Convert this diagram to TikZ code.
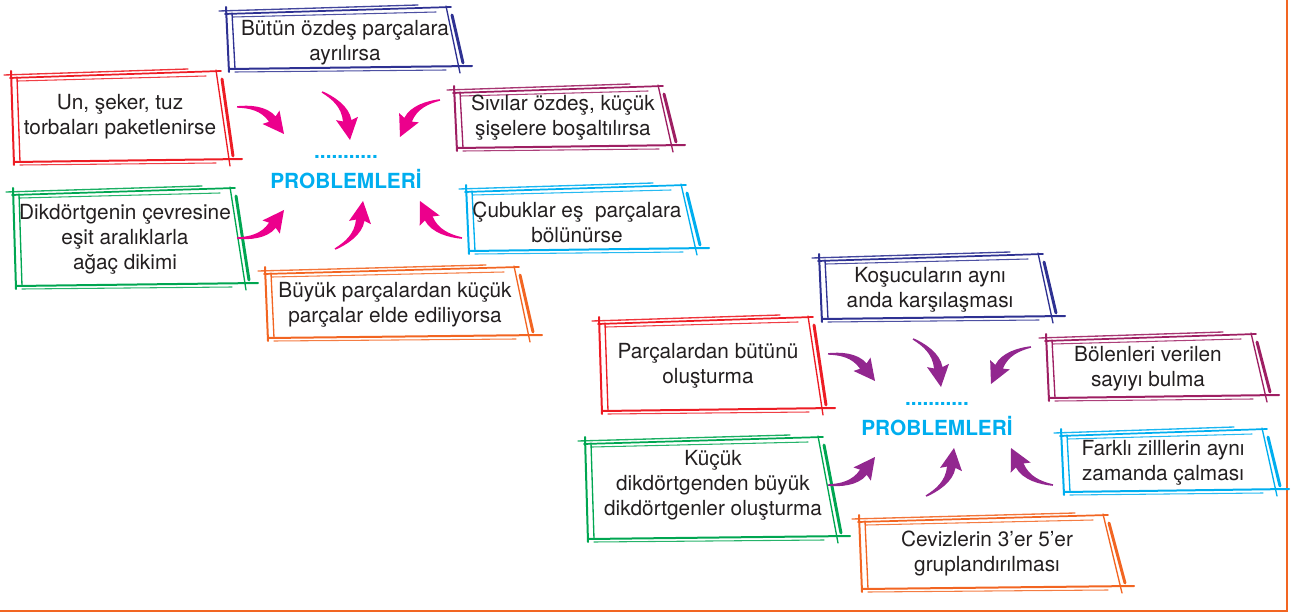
\documentclass[tikz,border=0pt]{standalone}
\usepackage{fontspec}
\setmainfont{TeX Gyre Heros}
\usetikzlibrary{calc}
\definecolor{cblue}{HTML}{2E3192}
\definecolor{cred}{HTML}{ED1C24}
\definecolor{cpurp}{HTML}{9E1F63}
\definecolor{cgreen}{HTML}{00A651}
\definecolor{ccyan}{HTML}{00AEEF}
\definecolor{corange}{HTML}{F26522}
\definecolor{cmag}{HTML}{EC008C}
\definecolor{cviolet}{HTML}{92278F}
\definecolor{ctext}{HTML}{231F20}

% point in the frame of an arrow: a along S->T (L=54 units), b sideways
\newcommand\AP[5]{($(#1)!{(#4)/54}!(#2) + (#1)!{(#3)*(#5)/54}!90:(#2) - (#1)$)}
\newcommand\barrow[4]{%
  \fill[#4] \AP{#1}{#2}{#3}{-0.3}{0.8}
    .. controls \AP{#1}{#2}{#3}{9.4}{7.8} and \AP{#1}{#2}{#3}{25}{15.9} .. \AP{#1}{#2}{#3}{38}{11}
    -- \AP{#1}{#2}{#3}{38.5}{18} -- (#2) -- \AP{#1}{#2}{#3}{30.5}{-2}
    -- \AP{#1}{#2}{#3}{35}{3.2}
    .. controls \AP{#1}{#2}{#3}{22.4}{9.1} and \AP{#1}{#2}{#3}{10.9}{5} .. \AP{#1}{#2}{#3}{0.3}{-0.6}
    -- cycle;}

% sketchy box: colour, x1, y1, x2 (bottom right), y2, slant of right side
\newcommand\skbox[6]{%
  \begin{scope}[#1, line cap=round]
    \draw[line width=1pt, opacity=0.9] ({#2-8},{#3+3}) -- ({#4-#6-30},{#3-3});
    \draw[line width=1.3pt] ({#2-2},{#3+6}) -- ({#4-#6+3},{#3-1});
    \draw[line width=0.8pt, opacity=0.85] ({#2+6},{#3+9}) -- ({#4-#6-12},{#3+4});
    \draw[line width=1.5pt] ({#2-1},{#3-1}) -- ({#2+2},{#5+5});
    \draw[line width=1pt] ({#2+5},{#3+5}) -- ({#2+8},{#5+2});
    \draw[line width=1pt] ({#4-#6-2},{#3-2}) -- ({#4},{#5+6});
    \draw[line width=2.2pt] ({#4-#6+4},{#3+7}) -- ({#4+3},{#5-4});
    \draw[line width=1.5pt] ({#2+2},{#5+2}) -- ({#4+12},{#5-1});
    \draw[line width=0.8pt, opacity=0.85] ({#2+8},{#5+5}) -- ({#4-14},{#5+3});
  \end{scope}}

\tikzset{
  txt/.style={align=center, text=ctext, inner sep=0pt,
    font=\fontsize{15.6pt}{18.75pt}\selectfont},
  ptitle/.style={text=ccyan, inner sep=0pt, anchor=base,
    font=\fontsize{15.6pt}{18pt}\selectfont\bfseries},
}

\newcommand\hub[3]{%
  \begin{scope}[shift={(#3)}]
    \coordinate (#1s1) at (237,107); \coordinate (#1t1) at (284,134);
    \coordinate (#1s2) at (322,92);  \coordinate (#1t2) at (350,140);
    \coordinate (#1s3) at (440,100); \coordinate (#1t3) at (400,137);
    \coordinate (#1s4) at (237,238); \coordinate (#1t4) at (284,210);
    \coordinate (#1s5) at (335,249); \coordinate (#1t5) at (363,201);
    \coordinate (#1s6) at (462,238); \coordinate (#1t6) at (420,201);
    \node[ptitle] (#1dots) at (346,158.5) {...........};
    \node[ptitle] (#1title) at (346,188.5) {PROBLEMLERİ};
  \end{scope}
  \barrow{#1s1}{#1t1}{1}{#2}
  \barrow{#1s2}{#1t2}{1}{#2}
  \barrow{#1s3}{#1t3}{-1}{#2}
  \barrow{#1s4}{#1t4}{-1}{#2}
  \barrow{#1s5}{#1t5}{-1}{#2}
  \barrow{#1s6}{#1t6}{1}{#2}}

\begin{document}
\begin{tikzpicture}[x=0.75pt, y=-0.75pt]
\useasboundingbox (0,0) rectangle (1293,613);

% frame
\draw[corange, line width=1.7pt] (0,611) -- (1287,611) -- (1287,-3);

% ---------- group 1 ----------
\skbox{cblue}{227}{8}{460}{67}{12}
\node[txt] (a1) at (345,42.5) {Bütün özdeş parçalara\\ayrılırsa};
\skbox{cred}{12}{72}{230}{160}{12}
\node[txt] (a2) at (120,117) {Un, şeker, tuz\\torbaları paketlenirse};
\skbox{cpurp}{455}{87}{673}{146}{13}
\node[txt] (a3) at (563,117.5) {Sıvılar özdeş, küçük\\şişelere boşaltılırsa};
\skbox{cgreen}{14}{189}{246}{284}{14}
\node[txt] (a4) at (125,239) {Dikdörtgenin çevresine\\eşit aralıklarla\\ağaç dikimi};
\skbox{ccyan}{467}{186}{697}{249}{14}
\node[txt] (a5) at (577,222) {Çubuklar eş\ \ parçalara\\bölünürse};
\skbox{corange}{266}{268}{530}{336}{14}
\node[txt] (a6) at (395,305) {Büyük parçalardan küçük\\parçalar elde ediliyorsa};
\hub{g}{cmag}{0,0}

% ---------- group 2 ----------
\skbox{cblue}{820}{255}{1053}{317}{13}
\node[txt] (b1) at (930,289.5) {Koşucuların aynı\\anda karşılaşması};
\skbox{cred}{600}{318}{823}{409}{13}
\node[txt] (b2) at (708,365.5) {Parçalardan bütünü\\oluşturma};
\skbox{cpurp}{1047}{335}{1267}{396}{14}
\node[txt] (b3) at (1148,368.5) {Bölenleri verilen\\sayıyı bulma};
\skbox{cgreen}{586}{438}{838}{537}{18}
\node[txt] (b4) at (713,485) {Küçük\\dikdörtgenden büyük\\dikdörtgenler oluşturma};
\skbox{ccyan}{1062}{430}{1277}{490}{13}
\node[txt] (b5) at (1163,462.7) {Farklı zilllerin aynı\\zamanda çalması};
\skbox{corange}{860}{516}{1122}{587}{17}
\node[txt] (b6) at (987,553.7) {Cevizlerin 3’er 5’er\\gruplandırılması};
\hub{h}{cviolet}{591,247}
\end{tikzpicture}
\end{document}
